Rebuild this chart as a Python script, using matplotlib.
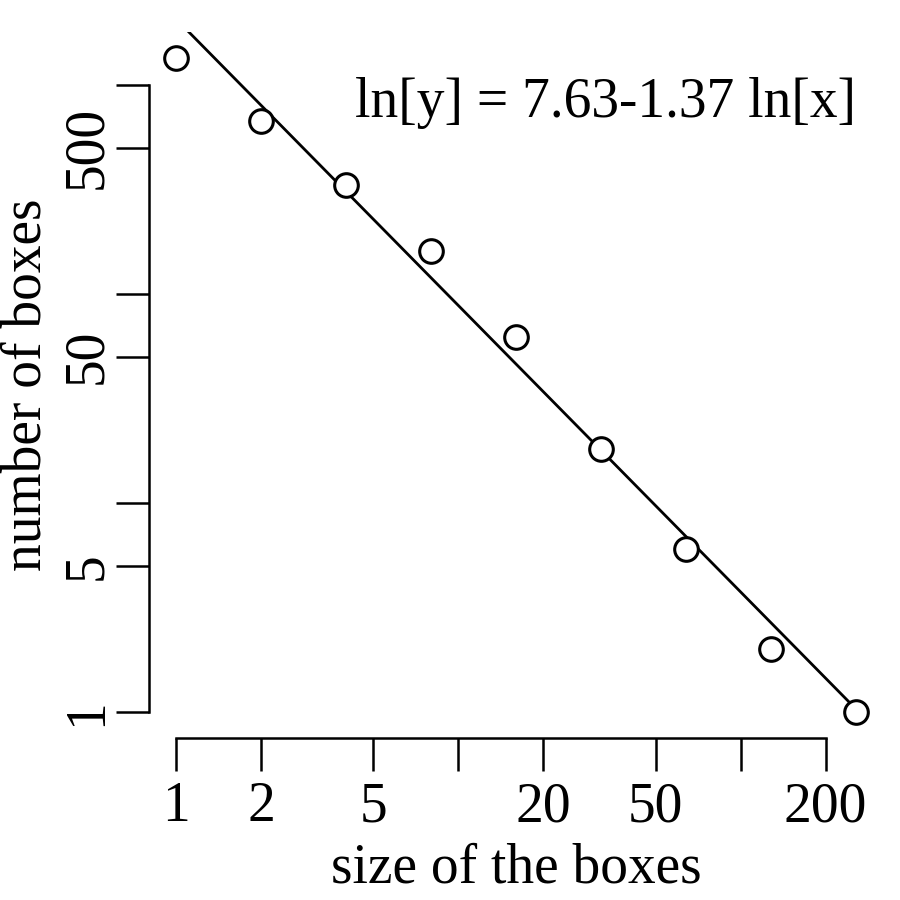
import numpy as np
import matplotlib
matplotlib.use("Agg")
import matplotlib.pyplot as plt

# box-counting data
box_size = [1, 2, 4, 8, 16, 32, 64, 128, 256]
n_boxes = [1340, 668, 330, 160, 62, 18, 6, 2, 1]
intercept = 7.63
slope = -1.37

xticks = [1, 2, 5, 10, 20, 50, 100, 200]
xlabels = ['1', '2', '5', '', '20', '50', '', '200']
yticks = [1, 5, 10, 50, 100, 500, 1000]
ylabels = ['1', '5', '', '50', '', '500', '']

plt.rcParams['font.family'] = ['Liberation Serif', 'DejaVu Serif']

fig = plt.figure(figsize=(9, 9), dpi=100)
ax = fig.add_axes([149/900, (900-738)/900, (883-149)/900, (738-32)/900])

lx = np.log(box_size)
ly = np.log(n_boxes)
dx = (lx.max() - lx.min()) * 0.04
dy = (ly.max() - ly.min()) * 0.04
ax.set_xscale('log')
ax.set_yscale('log')
ax.set_xlim(np.exp(lx.min() - dx), np.exp(lx.max() + dx))
ax.set_ylim(np.exp(ly.min() - dy), np.exp(ly.max() + dy))

# fitted line
xf = np.array([box_size[0], box_size[-1]], dtype=float)
ax.plot(xf, np.exp(intercept + slope * np.log(xf)), color='black', lw=2)
ax.plot(box_size, n_boxes, 'o', ms=17, mfc='white', mec='black', mew=2.2,
        clip_on=False, zorder=3)

ax.text(0.963, 0.90, 'ln[y] = 7.63-1.37 ln[x]', transform=ax.transAxes,
        ha='right', va='center', fontsize=40)

for s in ['top', 'right']:
    ax.spines[s].set_visible(False)
ax.spines['bottom'].set_bounds(1, 200)
ax.spines['left'].set_bounds(1, 1000)
ax.spines['bottom'].set_linewidth(1.8)
ax.spines['left'].set_linewidth(1.8)

ax.set_xticks(xticks)
ax.set_xticklabels(xlabels)
ax.set_yticks(yticks)
ax.set_yticklabels(ylabels, rotation=90, va='center')
ax.minorticks_off()
ax.tick_params(axis='both', length=24, width=1.8, labelsize=40)
ax.tick_params(axis='x', pad=7)
ax.tick_params(axis='y', pad=2)

ax.set_xlabel('size of the boxes', fontsize=40, labelpad=6.5)
ax.set_ylabel('number of boxes', fontsize=40, labelpad=6)

fig.savefig('out.png', dpi=100)
